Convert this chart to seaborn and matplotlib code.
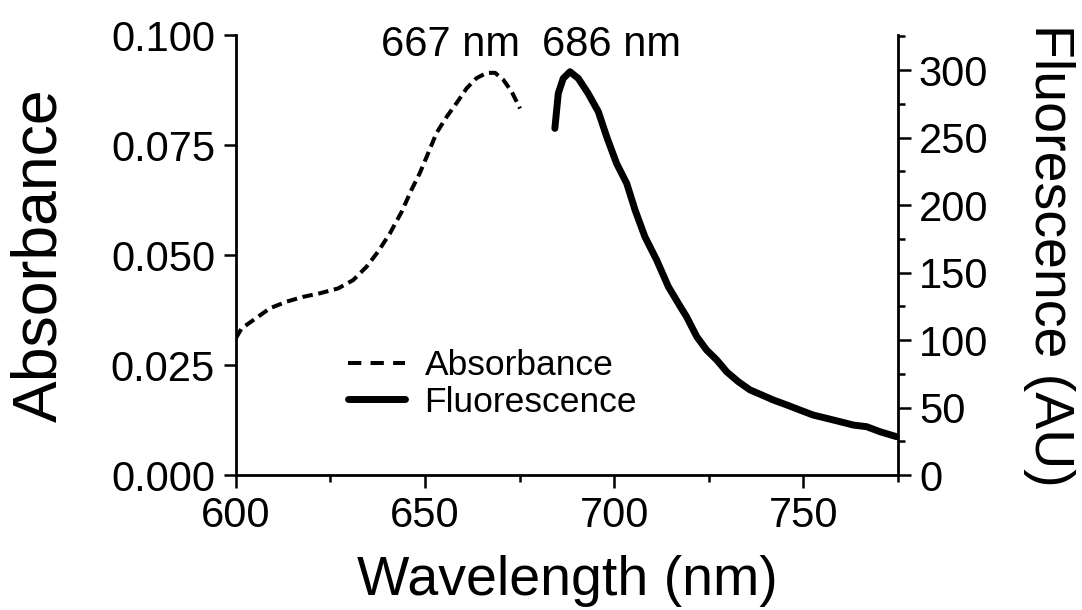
import numpy as np
import matplotlib
matplotlib.use("Agg")
import matplotlib.pyplot as plt
import seaborn as sns
from matplotlib.ticker import MultipleLocator, FormatStrFormatter
from matplotlib.lines import Line2D

# absorbance spectrum (dashed)
abs_wl = [600.0, 601.5, 604.6, 609.0, 613.4, 617.8, 622.2, 627.0, 631.0, 634.5,
          637.6, 640.7, 643.8, 646.4, 648.6, 650.8, 653.0, 655.7, 658.3, 661.0,
          663.6, 666.3, 668.5, 670.7, 672.9, 675.1]
abs_val = [0.0311, 0.0333, 0.0352, 0.0379, 0.0394, 0.0405, 0.0413, 0.0424, 0.0443, 0.0473,
           0.0508, 0.0549, 0.0598, 0.0648, 0.0686, 0.0731, 0.0777, 0.0814, 0.0845, 0.0879,
           0.0902, 0.0914, 0.0914, 0.0898, 0.0871, 0.0833]

# fluorescence emission (solid, right axis)
fl_wl = [684.3, 685.2, 686.5, 688.3, 690.5, 693.1, 695.8, 698.0, 700.6, 703.3,
         705.5, 708.1, 711.2, 714.3, 717.4, 719.1, 721.8, 724.4, 727.1, 729.7,
         732.8, 735.9, 739.0, 742.0, 745.6, 749.1, 752.6, 756.1, 759.7, 763.2,
         766.7, 770.2, 774.6]
fl_val = [256.8, 282.7, 293.8, 298.8, 293.8, 282.7, 269.1, 250.6, 230.9, 216.0,
          196.3, 176.5, 159.3, 139.5, 125.0, 117.3, 102.5, 92.6, 85.2, 76.5,
          69.1, 63.0, 59.3, 55.6, 51.9, 48.1, 44.4, 42.0, 39.5, 37.0,
          35.8, 32.1, 28.4]

peak_labels = ["667 nm", "686 nm"]
peak_label_x = [656.8, 699.4]

sns.set_style("ticks")
plt.rcParams['font.family'] = ['Liberation Sans', 'DejaVu Sans']
plt.rcParams['text.color'] = 'black'
plt.rcParams['axes.labelcolor'] = 'black'

DASH = (0, (2.6, 1.4))

fig = plt.figure(figsize=(10.82, 6.10), dpi=100)
ax = fig.add_axes([0.218, 0.2213, 0.612, 0.7213])
ax2 = ax.twinx()

sns.lineplot(x=abs_wl, y=abs_val, ax=ax, color='black', lw=2.9,
             linestyle=DASH, label='Absorbance', legend=False)
sns.lineplot(x=fl_wl, y=fl_val, ax=ax2, color='black', lw=5,
             label='Fluorescence', legend=False)

ax.set_xlim(600, 775)
ax.set_ylim(0, 0.100)
ax2.set_ylim(0, 326)

ax.xaxis.set_major_locator(MultipleLocator(50))
ax.xaxis.set_minor_locator(MultipleLocator(25))
ax.yaxis.set_major_locator(MultipleLocator(0.025))
ax.yaxis.set_major_formatter(FormatStrFormatter('%.3f'))
ax2.yaxis.set_major_locator(MultipleLocator(50))
ax2.yaxis.set_minor_locator(MultipleLocator(25))

for a in (ax, ax2):
    a.spines['top'].set_visible(False)
    for s in a.spines.values():
        s.set_linewidth(2)
        s.set_color('black')
    a.tick_params(which='major', direction='out', length=9, width=1.8,
                  labelsize=30, colors='black', pad=6)
    a.tick_params(which='minor', direction='out', length=5, width=1.8, colors='black')
ax.spines['right'].set_visible(False)
ax2.spines['left'].set_visible(False)
ax2.spines['bottom'].set_visible(False)

ax.set_xlabel('Wavelength (nm)', fontsize=40, labelpad=14)
ax.set_ylabel('Absorbance', fontsize=45, labelpad=30)
ax2.set_ylabel('Fluorescence (AU)', fontsize=40, rotation=270, labelpad=62)

for txt, xpos in zip(peak_labels, peak_label_x):
    ax.text(xpos, 0.0977, txt, fontsize=30, ha='center', va='center')

handles = [Line2D([], [], color='black', lw=2.9, linestyle=(0, (3.3, 2.3))),
           Line2D([], [], color='black', lw=5)]
ax.legend(handles, ['Absorbance', 'Fluorescence'], loc='upper left',
          bbox_to_anchor=(0.148, 0.318), frameon=False, fontsize=25.5,
          handlelength=1.6, handletextpad=0.56, labelspacing=0.1,
          borderaxespad=0)

fig.savefig('out.png', dpi=100)
